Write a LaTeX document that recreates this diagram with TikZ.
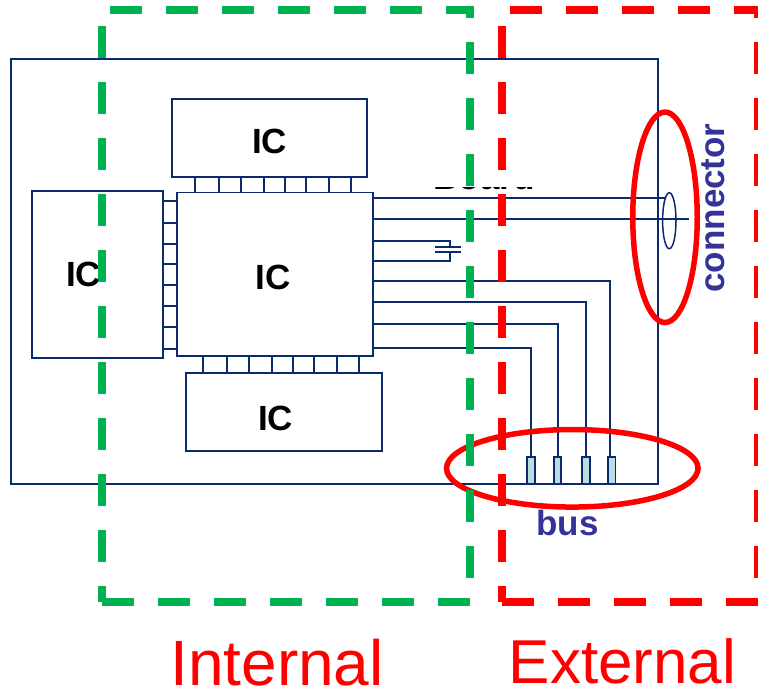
\documentclass[tikz,border=0pt]{standalone}
\usepackage{fontspec}
\setmainfont{Liberation Sans}
\usetikzlibrary{shapes.geometric}
\definecolor{wire}{HTML}{0B2A6E}
\definecolor{zonegreen}{HTML}{00B050}
\definecolor{zonered}{HTML}{FF0000}
\definecolor{labelblue}{HTML}{333399}
\definecolor{pinfill}{HTML}{B7DEE0}
\tikzset{
  wireline/.style={draw=wire,line width=1.8pt},
  chipbox/.style={wireline,rectangle,inner sep=0pt,outer sep=0pt,fill=white},
  buspin/.style={wireline,rectangle,inner sep=0pt,outer sep=0pt,fill=pinfill,minimum width=7.6pt,minimum height=27pt,anchor=south},
  chiptext/.style={inner sep=0pt,anchor=base,font=\bfseries\fontsize{35}{35}\selectfont,text=black},
  zonetext/.style={inner sep=0pt,anchor=base,text=zonered},
  bluetext/.style={inner sep=0pt,font=\bfseries\fontsize{35}{35}\selectfont,text=labelblue},
  zonedash/.style={line width=8pt,dash pattern=on 32pt off 24pt},
  ring/.style={draw=zonered,line width=5.5pt,ellipse,inner sep=0pt,outer sep=0pt},
}
\newcommand{\boxat}[5]{\node[chipbox,minimum width=#4pt-#2pt,minimum height=#5pt-#3pt] (#1) at ({(#2+#4)/2},{(#3+#5)/2}) {};}
\begin{document}
\begin{tikzpicture}[x=1pt,y=-1pt]
\useasboundingbox (0,0) rectangle (758,690);
\clip (0,0) rectangle (758,690);
% board
\boxat{board}{11}{59}{658}{484}
% hidden board label: only its lower edge shows above the wires
\begin{scope}
  \clip (420,188) rectangle (550,190.4);
  \node[inner sep=0pt,anchor=base,font=\bfseries\fontsize{35}{35}\selectfont,text=black] (boardlabel) at (484,189.8) {Board};
\end{scope}
% chips
\boxat{icTop}{171.7}{99}{367}{177.3}
\boxat{icLeft}{32}{191}{163}{358}
\boxat{icMain}{176.7}{192.5}{372.8}{355.8}
\boxat{icBottom}{186}{373}{382}{451}
\node[chiptext] (txtTop) at (269.7,154) {IC};
\node[chiptext] (txtLeft) at (83.5,286.7) {IC};
\node[chiptext] (txtMain) at (273,289) {IC};
\node[chiptext] (txtBottom) at (275.7,430) {IC};
% chip to chip pins
\foreach \x in {194.7,219.3,241.3,264,285.3,306,328.7,351.3}
  \draw[wireline] (\x,0 |- icTop.south) -- (\x,0 |- icMain.north);
\foreach \x in {203,227.3,249,271.7,293,314.3,336.7,359}
  \draw[wireline] (\x,0 |- icMain.south) -- (\x,0 |- icBottom.north);
\foreach \y in {200.7,223.3,244,264,285,306,327.3,349.3}
  \draw[wireline] (icLeft.east |- 0,\y) -- (icMain.west |- 0,\y);
% connector
\node[draw=wire,line width=1.5pt,ellipse,inner sep=0pt,outer sep=0pt,minimum width=13.4pt,minimum height=56pt] (plug) at (669.3,220.7) {};
\coordinate (endA) at (665,198);
\coordinate (endB) at (689,219);
\draw[wireline] (icMain.east |- 0,198) -- (endA);
\draw[wireline] (icMain.east |- 0,219) -- (endB);
% capacitor
\coordinate (capTop) at (450.3,247);
\coordinate (capBot) at (450.3,251.7);
\draw[wireline] (icMain.east |- 0,241.3) -| (capTop);
\draw[wireline] (icMain.east |- 0,261) -| (capBot);
\draw[wireline] (435,247) -- (capTop) -- (461.3,247);
\draw[wireline] (435,251.7) -- (capBot) -- (461.3,251.7);
% bus pins
\node[buspin] (pinA) at (530.8,484) {};
\node[buspin] (pinB) at (557.5,484) {};
\node[buspin] (pinC) at (586,484) {};
\node[buspin] (pinD) at (611.6,484) {};
\draw[wireline] (icMain.east |- 0,347.7) -| (pinA.north);
\draw[wireline] (icMain.east |- 0,324.3) -| ([xshift=0.8pt]pinB.north);
\draw[wireline] (icMain.east |- 0,302.3) -| (pinC.north);
\draw[wireline] (icMain.east |- 0,281.3) -| ([xshift=-1.6pt]pinD.north);
% rings
\node[ring,minimum width=64.5pt,minimum height=210.5pt] (ringConn) at (665,217.3) {};
\node[ring,minimum width=251.5pt,minimum height=77.5pt] (ringBus) at (572.3,468.3) {};
% blue labels
\node[bluetext,anchor=base] (busLabel) at (567.5,535) {bus};
\node[bluetext,anchor=base,rotate=90] (connLabel) at (724.3,208) {connector};
% internal zone
\draw[zonegreen,zonedash] (110,10) -- (474,10);
\draw[zonegreen,zonedash,dash phase=20pt] (470,6) -- (470,600);
\draw[zonegreen,zonedash] (102,602) -- (470,602);
\draw[zonegreen,zonedash,dash phase=16pt] (102,602) -- (102,26);
% external zone
\draw[zonered,zonedash] (510,10) -- (758,10);
\draw[zonered,zonedash,dash phase=20pt] (758,6) -- (758,600);
\draw[zonered,zonedash] (502,602) -- (758,602);
\draw[zonered,zonedash,dash phase=16pt] (502,602) -- (502,26);
% zone names
\node[zonetext,font=\fontsize{64}{64}\selectfont] (internalLabel) at (277,685) {Internal};
\node[zonetext,font=\fontsize{62}{62}\selectfont] (externalLabel) at (622.5,683.5) {External};
\end{tikzpicture}
\end{document}
